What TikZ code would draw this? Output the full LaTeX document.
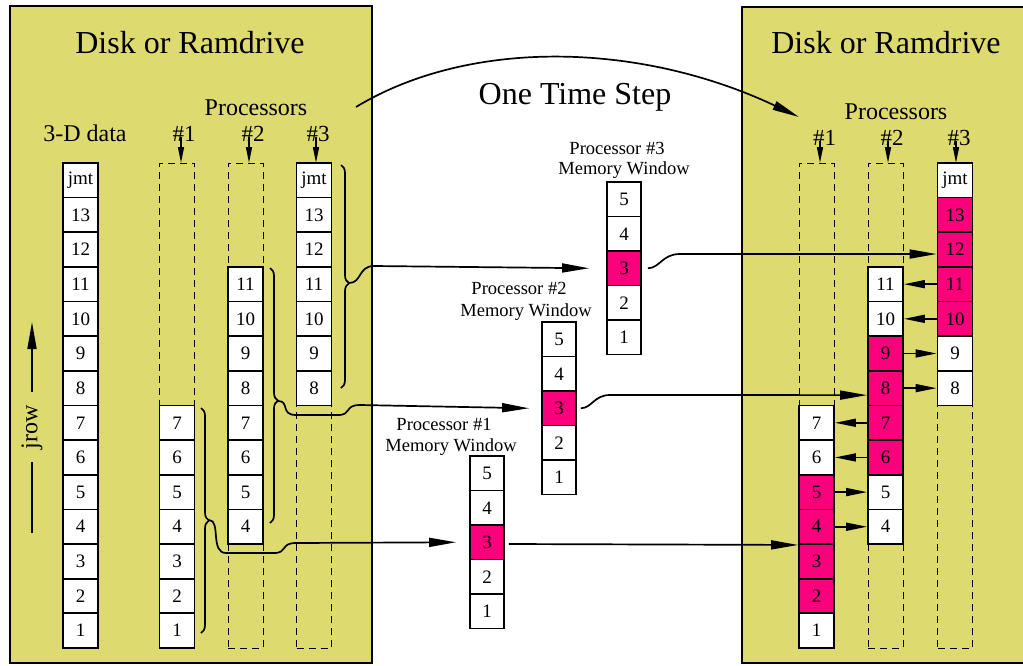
\documentclass[tikz,border=0pt]{standalone}
\usepackage{fontspec}
\setmainfont{Liberation Serif}
\usetikzlibrary{arrows.meta,decorations.pathreplacing,calc}
\definecolor{panel}{RGB}{221,219,112}
\definecolor{hotpink}{RGB}{250,0,125}

\begin{document}
\begin{tikzpicture}[x=1pt,y=-1pt,
  every node/.style={inner sep=0pt},
  titlefont/.style={font=\fontsize{32}{32}\selectfont},
  labelfont/.style={font=\fontsize{24}{24}\selectfont},
  hashfont/.style={font=\fontsize{23}{23}\selectfont},
  winfont/.style={font=\fontsize{18.5}{18.5}\selectfont},
  panelbox/.style={draw,line width=2.4pt,fill=panel},
  cell/.style={draw,line width=1.8pt,minimum width=35pt,minimum height=34.65pt,
               fill=white,font=\fontsize{19}{19}\selectfont},
  hotcell/.style={cell,fill=hotpink},
  win/.style={cell,minimum width=34pt,minimum height=34.5pt},
  winhot/.style={win,fill=hotpink},
  slot/.style={draw,line width=0.9pt,dash pattern=on 7pt off 5pt,
               minimum width=35pt,minimum height=485pt,anchor=north},
  bracepen/.style={line width=1.7pt,decorate},
  stub/.style={line width=1.7pt},
  link/.style={line width=1.7pt,-{Triangle[length=27pt,width=9pt]}},
  shortlink/.style={line width=1.7pt,-{Triangle[length=21pt,width=8pt]}},
  hashlink/.style={line width=1.5pt,-{Triangle[length=16pt,width=6pt]}}]

\useasboundingbox (0,0) rectangle (1023,665);
\clip (0,0) rectangle (1023,665);

% storage panels
\path[panelbox] (10,6) rectangle (372,663);
\path[panelbox] (742,7) rectangle (1040,663);

% dashed processor slots
\node[slot] (SL1) at (177,163) {};
\node[slot] (SL2) at (245.5,163) {};
\node[slot] (SL3) at (314,163) {};
\node[slot] (SR1) at (816.5,163) {};
\node[slot] (SR2) at (885.5,163) {};
\node[slot] (SR3) at (955,163) {};

% 3-D data column
\foreach \k/\t in {1/1,2/2,3/3,4/4,5/5,6/6,7/7,8/8,9/9,10/10,11/11,12/12,13/13,14/jmt}
  \node[cell] (D-\k) at (80.5,{648-(\k-0.5)*34.65}) {\t};

% processor columns before the step
\foreach \k in {1,...,7}
  \node[cell] (LA-\k) at (177,{648-(\k-0.5)*34.65}) {\k};
\foreach \k in {4,...,11}
  \node[cell] (LB-\k) at (245.5,{648-(\k-0.5)*34.65}) {\k};
\foreach \k/\t in {8/8,9/9,10/10,11/11,12/12,13/13,14/jmt}
  \node[cell] (LC-\k) at (314,{648-(\k-0.5)*34.65}) {\t};

% processor columns after the step
\foreach \k/\s in {1/cell,2/hotcell,3/hotcell,4/hotcell,5/hotcell,6/cell,7/cell}
  \node[\s] (RA-\k) at (816.5,{648-(\k-0.5)*34.65}) {\k};
\foreach \k/\s in {4/cell,5/cell,6/hotcell,7/hotcell,8/hotcell,9/hotcell,10/cell,11/cell}
  \node[\s] (RB-\k) at (885.5,{648-(\k-0.5)*34.65}) {\k};
\foreach \k/\s/\t in {8/cell/8,9/cell/9,10/hotcell/10,11/hotcell/11,12/hotcell/12,13/hotcell/13,14/cell/jmt}
  \node[\s] (RC-\k) at (955,{648-(\k-0.5)*34.65}) {\t};

% memory windows
\foreach \w/\x/\top in {1/487/456,2/559/322,3/624/182}
  \foreach \k/\s in {1/win,2/win,3/winhot,4/win,5/win}
    \node[\s] (M\w-\k) at (\x,{\top+(5.5-\k)*34.5}) {\k};

% texts
\node[titlefont,anchor=base] (ttlL) at (190,53) {Disk or Ramdrive};
\node[titlefont,anchor=base] (ttlR) at (886,53) {Disk or Ramdrive};
\node[titlefont,anchor=base] (ots) at (575,104) {One Time Step};
\node[labelfont,anchor=base] (procL) at (256,115) {Processors};
\node[labelfont,anchor=base] (procR) at (896,119) {Processors};
\node[labelfont,anchor=base] (data) at (85,141) {3-D data};
\node[hashfont,anchor=base] (hL1) at (184,141) {\#1};
\node[hashfont,anchor=base] (hL2) at (253,141) {\#2};
\node[hashfont,anchor=base] (hL3) at (318,141) {\#3};
\node[hashfont,anchor=base] (hR1) at (824.5,145) {\#1};
\node[hashfont,anchor=base] (hR2) at (892,145) {\#2};
\node[hashfont,anchor=base] (hR3) at (959,145) {\#3};
\node[winfont,anchor=base] (P3) at (617,154) {Processor \#3};
\node[winfont,anchor=base] (W3) at (624,174) {Memory Window};
\node[winfont,anchor=base] (P2) at (519,294) {Processor \#2};
\node[winfont,anchor=base] (W2) at (526,316) {Memory Window};
\node[winfont,anchor=base] (P1) at (444,430) {Processor \#1};
\node[winfont,anchor=base] (W1) at (451,451) {Memory Window};

% jrow axis
\node[labelfont,rotate=90,inner xsep=13pt] (jrow) at (32,427) {jrow};
\coordinate (jlow) at (32,533);
\coordinate (jtip) at (32,322);
\draw[stub] (jlow) -- (jrow.west);
\draw[link] (jrow.east) -- (jtip);

% processor pointers
\foreach \h/\dx in {hL1/-3,hL2/-4,hL3/-2}
  \draw[hashlink] ($(\h.base)+(\dx,-4)$) -- ++(0,26);
\foreach \h/\dx in {hR1/-4.5,hR2/-4,hR3/-3}
  \draw[hashlink] ($(\h.base)+(\dx,-4)$) -- ++(0,22);

% braces grouping each processor's rows
\draw[bracepen,decoration={brace,amplitude=8pt,aspect=0.53}] (341,165) -- (341,388);
\draw[bracepen,decoration={brace,amplitude=8pt,aspect=0.52}] (270,268) -- (270,523);
\draw[bracepen,decoration={brace,amplitude=8pt,aspect=0.5}] (201,408) -- (201,633);
\coordinate (b3) at (349,283);
\coordinate (b2) at (278,401);
\coordinate (b1) at (209,520);

% loading into the memory windows
\draw[link] (b3) .. controls (362,283) and (358,266) .. (374,266)
  -- ($(M3-3.west)+(-17,0)$);
\draw[link] (b2) .. controls (290,401) and (280,415) .. (296,415) -- (338,415)
  .. controls (352,415) and (344,405) .. (360,405) -- ($(M2-3.west)+(-12,0)$);
\draw[link] (b1) .. controls (221,520) and (210,553) .. (226,553) -- (274,553)
  .. controls (288,553) and (280,543) .. (296,543) -- ($(M1-3.west)+(-13,0)$);

% writing back from the memory windows
\draw[link] ($(M3-3.east)+(6,0)$) .. controls (660,268) and (662,254) .. (680,254)
  -- ($(RC-12.west)+(0,4.5)$);
\draw[link] ($(M2-3.east)+(4,0)$) .. controls (592,408) and (594,395) .. (610,395)
  -- ($(RB-8.west)+(0,7)$);
\draw[link] ($(M1-3.east)+(4,1.75)$) -- (RA-4.south west);

% boundary exchanges between neighbouring processors
\draw[shortlink] (RC-11.west) -- (RB-11.east);
\draw[shortlink] (RC-10.west) -- (RB-10.east);
\draw[shortlink] (RB-9.east) -- (RC-9.west);
\draw[shortlink] (RB-8.east) -- (RC-8.west);
\draw[shortlink] (RB-7.west) -- (RA-7.east);
\draw[shortlink] (RB-6.west) -- (RA-6.east);
\draw[shortlink] (RA-5.east) -- (RB-5.west);
\draw[shortlink] (RA-4.east) -- (RB-4.west);

% the time step
\coordinate (stepA) at (356,107);
\coordinate (stepB) at (799,117);
\draw[link] (stepA) .. controls (470,38) and (640,42) .. (stepB);
\end{tikzpicture}
\end{document}
